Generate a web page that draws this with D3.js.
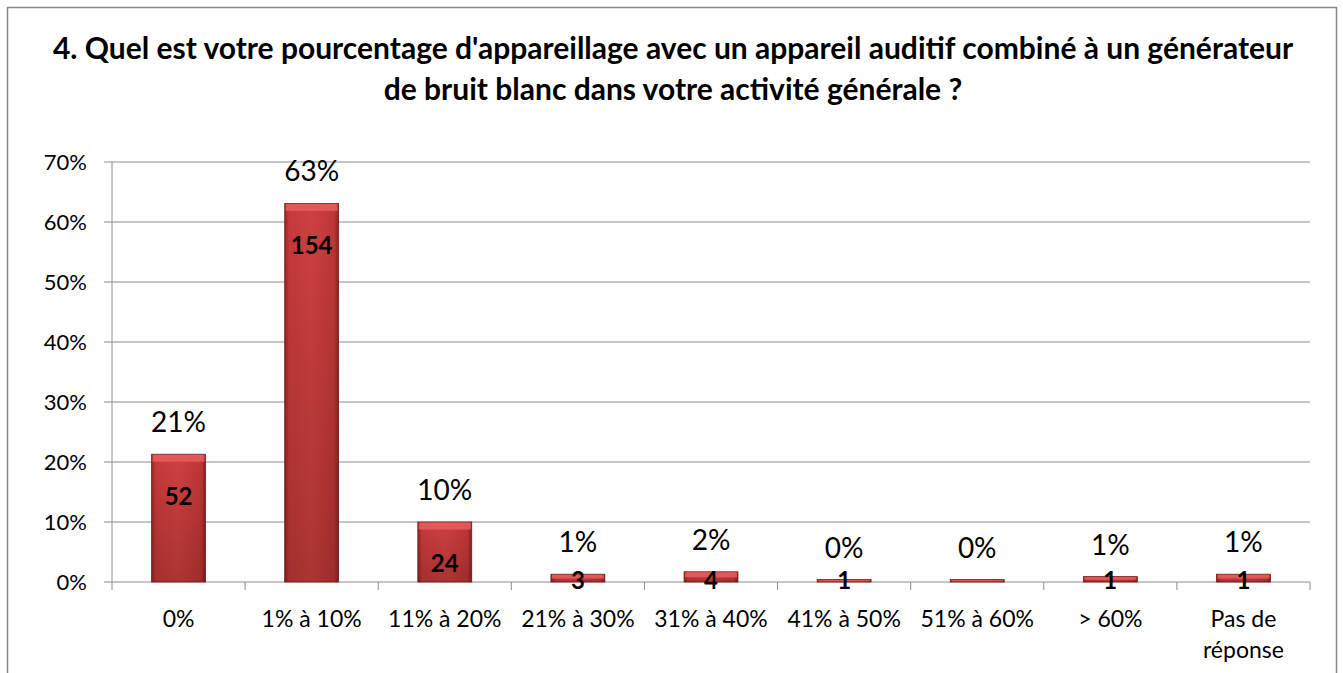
<!DOCTYPE html>
<html>
<head>
<meta charset="utf-8">
<script src="https://cdn.jsdelivr.net/npm/d3@7"></script>
<style>
  body { margin: 0; background: #fff; }
  svg { font-family: Lato, "Open Sans", sans-serif; }
</style>
</head>
<body>
<svg id="chart"></svg>
<script>
// data
var categories = ["0%", "1% à 10%", "11% à 20%", "21% à 30%", "31% à 40%", "41% à 50%", "51% à 60%", "> 60%", "Pas de réponse"];
var percents = [21.3, 63.1, 10.0, 1.3, 1.7, 0.4, 0.4, 0.9, 1.3];
var pctLabels = ["21%", "63%", "10%", "1%", "2%", "0%", "0%", "1%", "1%"];
var counts = [52, 154, 24, 3, 4, 1, null, 1, 1];
var yTicks = [0, 10, 20, 30, 40, 50, 60, 70];
var titleLines = ["4. Quel est votre pourcentage d'appareillage avec un appareil auditif combiné à un générateur",
                  "de bruit blanc dans votre activité générale ?"];

var W = 1343, H = 673;
var margin = {top: 162, right: 33, bottom: 91, left: 112},
    width = W - margin.left - margin.right,
    height = H - margin.top - margin.bottom;

var svg = d3.select("#chart").attr("width", W).attr("height", H);

// outer frame
svg.append("rect")
  .attr("x", 7.5).attr("y", 7.5)
  .attr("width", 1329).attr("height", 700)
  .attr("fill", "none").attr("stroke", "#888").attr("stroke-width", 1.5);

// title
svg.selectAll(".title").data(titleLines).enter().append("text")
  .attr("class", "title")
  .attr("x", 673).attr("y", function(d, i) { return 59 + i * 41; })
  .attr("text-anchor", "middle")
  .attr("font-size", 30).attr("font-weight", "bold").attr("fill", "#000")
  .text(function(d) { return d; });

var defs = svg.append("defs");
var grad = defs.append("linearGradient").attr("id", "barGrad")
  .attr("x1", 0).attr("x2", 1).attr("y1", 0).attr("y2", 0);
grad.append("stop").attr("offset", "0%").attr("stop-color", "#9c2424");
grad.append("stop").attr("offset", "8%").attr("stop-color", "#c73a3a");
grad.append("stop").attr("offset", "50%").attr("stop-color", "#cf4040");
grad.append("stop").attr("offset", "92%").attr("stop-color", "#c03636");
grad.append("stop").attr("offset", "100%").attr("stop-color", "#8e2020");
var shade = defs.append("linearGradient").attr("id", "shadeGrad")
  .attr("x1", 0).attr("x2", 0).attr("y1", 0).attr("y2", 1);
shade.append("stop").attr("offset", "0%").attr("stop-color", "#000").attr("stop-opacity", 0);
shade.append("stop").attr("offset", "100%").attr("stop-color", "#000").attr("stop-opacity", 0.18);

var g = svg.append("g").attr("transform", "translate(" + margin.left + "," + margin.top + ")");

var x = d3.scaleBand().domain(categories).range([0, width]).paddingInner(0.595).paddingOuter(0.2975);
var y = d3.scaleLinear().domain([0, 70]).range([height, 0]);

// gridlines
g.append("g").selectAll("line").data(yTicks).enter().append("line")
  .attr("x1", -8).attr("x2", width)
  .attr("y1", function(d) { return y(d); }).attr("y2", function(d) { return y(d); })
  .attr("stroke", "#8c8c8c").attr("stroke-width", 1);

// y tick labels
g.append("g").selectAll("text").data(yTicks).enter().append("text")
  .attr("x", -25).attr("y", function(d) { return y(d); })
  .attr("dy", "0.35em").attr("text-anchor", "end")
  .attr("font-size", 22).attr("fill", "#000")
  .text(function(d) { return d + "%"; });

// y axis line
g.append("line").attr("x1", 0).attr("x2", 0).attr("y1", 0).attr("y2", height + 8)
  .attr("stroke", "#8c8c8c");

// x ticks at category boundaries
var step = width / categories.length;
g.append("g").selectAll("line").data(d3.range(1, categories.length + 1)).enter().append("line")
  .attr("x1", function(d) { return d * step; }).attr("x2", function(d) { return d * step; })
  .attr("y1", height).attr("y2", height + 8)
  .attr("stroke", "#8c8c8c");

// bars
var bars = g.append("g").selectAll("g").data(categories).enter().append("g");
bars.append("rect")
  .attr("x", function(d) { return x(d); })
  .attr("y", function(d, i) { return y(percents[i]); })
  .attr("width", x.bandwidth())
  .attr("height", function(d, i) { return height - y(percents[i]); })
  .attr("fill", "url(#barGrad)")
  .attr("stroke", "#7a1a1a").attr("stroke-width", 0.8);
bars.append("rect")
  .attr("x", function(d) { return x(d); })
  .attr("y", function(d, i) { return y(percents[i]); })
  .attr("width", x.bandwidth())
  .attr("height", function(d, i) { return height - y(percents[i]); })
  .attr("fill", "url(#shadeGrad)");
// bevel highlight on top
bars.append("rect")
  .attr("x", function(d) { return x(d) + 1; })
  .attr("y", function(d, i) { return y(percents[i]) + 0.5; })
  .attr("width", x.bandwidth() - 2)
  .attr("height", function(d, i) { return Math.min(7, (height - y(percents[i])) / 2); })
  .attr("fill", "#e86060").attr("opacity", 0.8);

// percent labels
g.append("g").selectAll("text").data(categories).enter().append("text")
  .attr("x", function(d) { return x(d) + x.bandwidth() / 2; })
  .attr("y", function(d, i) { return y(percents[i]) - 22; })
  .attr("text-anchor", "middle")
  .attr("font-size", 28).attr("fill", "#000")
  .text(function(d, i) { return pctLabels[i]; });

// count labels
g.append("g").selectAll("text").data(categories).enter().append("text")
  .attr("x", function(d) { return x(d) + x.bandwidth() / 2; })
  .attr("y", function(d, i) { return Math.min(y(percents[i]) + 42, height - 1); })
  .attr("dy", "0.35em").attr("text-anchor", "middle")
  .attr("font-size", 24).attr("font-weight", "bold").attr("fill", "#000")
  .text(function(d, i) { return counts[i] == null ? "" : counts[i]; });

// x category labels
var xl = g.append("g").selectAll("text").data(categories).enter().append("text")
  .attr("x", function(d) { return x(d) + x.bandwidth() / 2; })
  .attr("y", height + 45)
  .attr("text-anchor", "middle")
  .attr("font-size", 23).attr("fill", "#000");
xl.each(function(d) {
  var lines = d === "Pas de réponse" ? ["Pas de", "réponse"] : [d];
  var t = d3.select(this);
  lines.forEach(function(l, k) {
    t.append("tspan").attr("x", t.attr("x")).attr("dy", k === 0 ? 0 : 31).text(l);
  });
});
</script>
</body>
</html>
